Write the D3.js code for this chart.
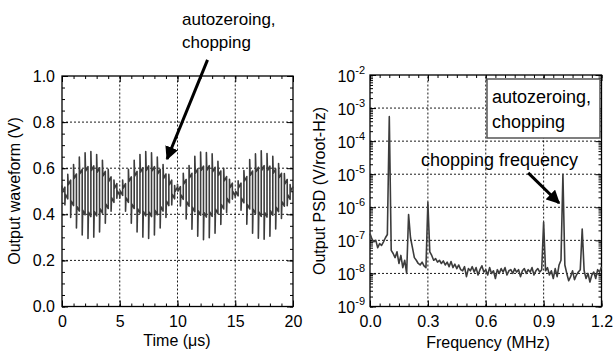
<!DOCTYPE html>
<html>
<head>
<meta charset="utf-8">
<script src="https://cdn.jsdelivr.net/npm/d3@7"></script>
<style>
  body { margin: 0; background: #fff; }
  svg { font-family: "Liberation Sans", Arial, sans-serif; }
  .grid line { stroke: #000; stroke-width: 0.9; stroke-dasharray: 2,2; }
  .tick line { stroke: #000; }
  .tick text { font-size: 16px; fill: #000; }
</style>
</head>
<body>
<svg id="chart" width="615" height="354"></svg>
<script>
var WAVE_T_TICKS = [0, 5, 10, 15, 20];
var WAVE_V_TICKS = [0, 0.2, 0.4, 0.6, 0.8, 1.0];
var PSD_F_TICKS = [0, 0.3, 0.6, 0.9, 1.2];
var PSD_EXP_TICKS = [-9, -8, -7, -6, -5, -4, -3, -2];

// waveform, one entry per switching interval (0.25 us):
// overshoot right after the switch, then level at start and end of the interval
var SEG_DT = 0.25;
var SEG_POST = [
  0.525, 0.441, 0.573, 0.386, 0.616, 0.341, 0.648, 0.310, 0.667, 0.295,
  0.672, 0.301, 0.659, 0.323, 0.634, 0.361, 0.595, 0.413, 0.549, 0.470,
  0.470, 0.549, 0.413, 0.595, 0.361, 0.634, 0.323, 0.659, 0.301, 0.672,
  0.295, 0.667, 0.310, 0.648, 0.341, 0.616, 0.386, 0.573, 0.441, 0.525,
  0.530, 0.436, 0.578, 0.380, 0.612, 0.335, 0.652, 0.305, 0.670, 0.290,
  0.668, 0.298, 0.662, 0.318, 0.630, 0.356, 0.600, 0.408, 0.552, 0.466,
  0.474, 0.545, 0.418, 0.590, 0.357, 0.638, 0.318, 0.662, 0.296, 0.676,
  0.292, 0.664, 0.305, 0.652, 0.336, 0.620, 0.382, 0.577, 0.437, 0.529];
var SEG_START = [
  0.498, 0.487, 0.528, 0.458, 0.555, 0.434, 0.575, 0.418, 0.587, 0.410,
  0.590, 0.413, 0.582, 0.425, 0.566, 0.445, 0.542, 0.472, 0.513, 0.502,
  0.502, 0.513, 0.472, 0.542, 0.445, 0.566, 0.425, 0.582, 0.413, 0.590,
  0.410, 0.587, 0.418, 0.575, 0.434, 0.555, 0.458, 0.528, 0.487, 0.498,
  0.500, 0.485, 0.531, 0.455, 0.558, 0.431, 0.577, 0.416, 0.589, 0.408,
  0.591, 0.411, 0.584, 0.423, 0.568, 0.443, 0.544, 0.470, 0.515, 0.500,
  0.500, 0.515, 0.470, 0.544, 0.443, 0.568, 0.423, 0.584, 0.411, 0.591,
  0.408, 0.589, 0.416, 0.577, 0.431, 0.558, 0.455, 0.531, 0.485, 0.500];
var SEG_END = [
  0.518, 0.467, 0.548, 0.438, 0.575, 0.414, 0.595, 0.398, 0.607, 0.390,
  0.610, 0.393, 0.602, 0.405, 0.586, 0.425, 0.562, 0.452, 0.533, 0.482,
  0.482, 0.533, 0.452, 0.562, 0.425, 0.586, 0.405, 0.602, 0.393, 0.610,
  0.390, 0.607, 0.398, 0.595, 0.414, 0.575, 0.438, 0.548, 0.467, 0.518,
  0.520, 0.465, 0.551, 0.435, 0.578, 0.411, 0.597, 0.396, 0.609, 0.388,
  0.611, 0.391, 0.604, 0.403, 0.588, 0.423, 0.564, 0.450, 0.535, 0.480,
  0.480, 0.535, 0.450, 0.564, 0.423, 0.588, 0.403, 0.604, 0.391, 0.611,
  0.388, 0.609, 0.396, 0.597, 0.411, 0.578, 0.435, 0.551, 0.465, 0.520];

// PSD sampled every 0.01 MHz from 0 to 1.2 MHz
var PSD_DF = 0.01;
var PSD = [
  1.6e-7, 1.1e-7, 9e-8, 1.0e-7, 6e-8, 8e-8, 7e-8, 9e-8, 1.2e-7, 1.5e-7,
  5.5e-4, 5e-8, 4e-8, 3e-8, 4.5e-8, 2e-8, 3.5e-8, 1.5e-8, 2.5e-8, 1.0e-8,
  6e-7, 1.2e-7, 6e-8, 3e-8, 2.5e-8, 2e-8, 1.8e-8, 2.2e-8, 1.7e-8, 1.5e-8,
  1.4e-6, 4.5e-8, 3.5e-8, 2.5e-8, 2.8e-8, 2.2e-8, 2.5e-8, 2e-8, 2.4e-8, 1.8e-8,
  2.2e-8, 1.6e-8, 2.3e-8, 1.5e-8, 1.9e-8, 1.4e-8, 1.8e-8, 1.3e-8, 1.2e-8, 1.6e-8,
  8e-9, 1.4e-8, 1.2e-8, 1.6e-8, 1.1e-8, 1.5e-8, 9e-9, 1.3e-8, 1.7e-8, 1.1e-8,
  1.3e-8, 9e-9, 1.5e-8, 1.0e-8, 1.2e-8, 7e-9, 1.3e-8, 1.0e-8, 1.4e-8, 1.1e-8,
  1.5e-8, 9e-9, 1.2e-8, 1.3e-8, 1.0e-8, 1.4e-8, 1.1e-8, 1.3e-8, 8e-9, 1.2e-8,
  1.4e-8, 1.0e-8, 1.3e-8, 1.1e-8, 1.5e-8, 9e-9, 1.2e-8, 1.4e-8, 1.1e-8, 1.3e-8,
  3.5e-7, 1.2e-8, 1.5e-8, 9e-9, 1.2e-8, 7e-9, 1.4e-8, 8e-9, 1.8e-8, 2.5e-8,
  1.0e-5, 1.8e-8, 1.0e-8, 6e-9, 8e-9, 1.2e-8, 6.5e-9, 9e-9, 1.1e-8, 1.3e-8,
  2.2e-7, 1.2e-8, 7e-9, 1.0e-8, 5.5e-9, 9e-9, 1.1e-8, 7e-9, 1.3e-8, 1.1e-8,
  1.6e-8
];

var LINE_COLOR = "#3c3c3c";

var svg = d3.select("#chart");

svg.append("defs").append("marker")
  .attr("id", "head").attr("viewBox", "0 0 10 10")
  .attr("refX", 9).attr("refY", 5)
  .attr("markerWidth", 4.5).attr("markerHeight", 4.5)
  .attr("orient", "auto")
  .append("path").attr("d", "M0,0L10,5L0,10z").attr("fill", "#000");

// frame with inside ticks on all four sides, dotted grid at the majors
function drawBox(g, x, y, o) {
  var xr = x.range(), yr = y.range();

  var grid = g.append("g").attr("class", "grid");
  grid.selectAll("line.gx").data(o.xGrid).join("line").attr("class", "gx")
    .attr("x1", x).attr("x2", x).attr("y1", yr[0]).attr("y2", yr[1]);
  grid.selectAll("line.gy").data(o.yGrid).join("line").attr("class", "gy")
    .attr("y1", y).attr("y2", y).attr("x1", xr[0]).attr("x2", xr[1]);

  function ax(axis, tr) {
    var a = g.append("g").attr("transform", tr).call(axis);
    a.select(".domain").remove();
    return a;
  }
  ax(d3.axisBottom(x).tickValues(o.xMinor).tickSize(-3).tickFormat(""), "translate(0," + yr[0] + ")");
  ax(d3.axisTop(x).tickValues(o.xMinor).tickSize(-3).tickFormat(""), "translate(0," + yr[1] + ")");
  ax(d3.axisLeft(y).tickValues(o.yMinor).tickSize(-3).tickFormat(""), "translate(" + xr[0] + ",0)");
  ax(d3.axisRight(y).tickValues(o.yMinor).tickSize(-3).tickFormat(""), "translate(" + xr[1] + ",0)");

  var bx = ax(d3.axisBottom(x).tickValues(o.xTicks).tickSize(-6).tickPadding(9).tickFormat(o.fmtX),
    "translate(0," + yr[0] + ")");
  bx.selectAll("text").attr("dy", "0.71em");
  ax(d3.axisTop(x).tickValues(o.xTicks).tickSize(-6).tickFormat(""), "translate(0," + yr[1] + ")");
  ax(d3.axisRight(y).tickValues(o.yTicks).tickSize(-6).tickFormat(""), "translate(" + xr[1] + ",0)");
  var ly = ax(d3.axisLeft(y).tickValues(o.yTicks).tickSize(-6).tickPadding(7).tickFormat(o.fmtY || ""),
    "translate(" + xr[0] + ",0)");

  g.selectAll(".tick line").attr("stroke-width", 1);
  g.append("rect")
    .attr("x", xr[0]).attr("y", yr[1])
    .attr("width", xr[1] - xr[0]).attr("height", yr[0] - yr[1])
    .attr("fill", "none").attr("stroke", "#000").attr("stroke-width", 1.3);
  return ly;
}

// ---- left: output waveform ----
var xT = d3.scaleLinear().domain([0, 20]).range([62, 293]);
var yV = d3.scaleLinear().domain([0, 1]).range([306.5, 76]);
var gL = svg.append("g");

drawBox(gL, xT, yV, {
  xTicks: WAVE_T_TICKS, yTicks: WAVE_V_TICKS,
  xMinor: xT.ticks(20), yMinor: yV.ticks(20),
  xGrid: WAVE_T_TICKS.slice(1, -1), yGrid: WAVE_V_TICKS.slice(1, -1),
  fmtX: d3.format("d"), fmtY: d3.format(".1f")
});

var wavePts = [];
SEG_START.forEach(function (v, k) {
  var t = k * SEG_DT;
  wavePts.push([t, SEG_POST[k]]);
  wavePts.push([t + 0.04, v]);
  wavePts.push([t + SEG_DT, SEG_END[k]]);
});
gL.append("path").datum(wavePts)
  .attr("d", d3.line().x(function (d) { return xT(d[0]); }).y(function (d) { return yV(d[1]); }))
  .attr("fill", "none").attr("stroke", LINE_COLOR).attr("stroke-width", 1.6)
  .attr("stroke-linejoin", "round");

gL.append("text").attr("x", 177).attr("y", 346).attr("text-anchor", "middle")
  .attr("font-size", 16).text("Time (\u03bcs)");
gL.append("text").attr("transform", "translate(20,191) rotate(-90)").attr("text-anchor", "middle")
  .attr("font-size", 16).text("Output waveform (V)");

gL.append("text").attr("x", 182).attr("y", 25).attr("font-size", 17).text("autozeroing,");
gL.append("text").attr("x", 182).attr("y", 48).attr("font-size", 17).text("chopping");
gL.append("line")
  .attr("x1", xT(12.6)).attr("y1", yV(1.07)).attr("x2", xT(9.1)).attr("y2", yV(0.64))
  .attr("stroke", "#000").attr("stroke-width", 3).attr("marker-end", "url(#head)");

// ---- right: output PSD ----
var xF = d3.scaleLinear().domain([0, 1.2]).range([370, 601.5]);
var yP = d3.scaleLog().domain([1e-9, 1e-2]).range([306.5, 75]);
var gR = svg.append("g");

var ly = drawBox(gR, xF, yP, {
  xTicks: PSD_F_TICKS, yTicks: PSD_EXP_TICKS.map(function (e) { return Math.pow(10, e); }),
  xMinor: xF.ticks(24), yMinor: yP.ticks(),
  xGrid: PSD_F_TICKS.slice(1, -1),
  yGrid: PSD_EXP_TICKS.slice(1, -1).map(function (e) { return Math.pow(10, e); }),
  fmtX: d3.format(".1f")
});
ly.selectAll(".tick text").each(function (d) {
  var t = d3.select(this).text("").attr("dy", "0.4em").attr("x", -5);
  t.append("tspan").text("10");
  t.append("tspan").attr("dy", "-0.75em").attr("font-size", 11)
    .text(Math.round(Math.log10(d)));
});

gR.append("path").datum(PSD)
  .attr("d", d3.line().x(function (d, i) { return xF(i * PSD_DF); }).y(function (d) { return yP(d); }))
  .attr("fill", "none").attr("stroke", LINE_COLOR).attr("stroke-width", 1.6)
  .attr("stroke-linejoin", "round");

gR.append("text").attr("x", 488).attr("y", 348).attr("text-anchor", "middle")
  .attr("font-size", 16).text("Frequency (MHz)");
gR.append("text").attr("transform", "translate(325,191) rotate(-90)").attr("text-anchor", "middle")
  .attr("font-size", 16).text("Output PSD (V/root-Hz)");

gR.append("rect").attr("x", 487).attr("y", 79).attr("width", 113).attr("height", 59)
  .attr("fill", "#fff").attr("stroke", "#555").attr("stroke-width", 1.5);
gR.append("text").attr("x", 492).attr("y", 103).attr("font-size", 18).text("autozeroing,");
gR.append("text").attr("x", 492).attr("y", 128).attr("font-size", 18).text("chopping");

gR.append("text").attr("x", 421).attr("y", 166).attr("font-size", 18).text("chopping frequency");
gR.append("line")
  .attr("x1", xF(0.82)).attr("y1", yP(1.1e-5)).attr("x2", xF(0.98)).attr("y2", yP(1.35e-6))
  .attr("stroke", "#000").attr("stroke-width", 3).attr("marker-end", "url(#head)");
</script>
</body>
</html>
